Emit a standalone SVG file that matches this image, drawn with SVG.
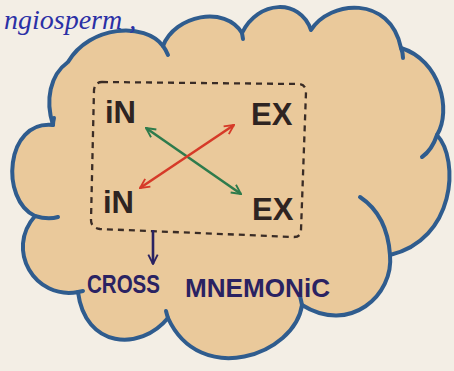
<svg xmlns="http://www.w3.org/2000/svg" width="454" height="371" viewBox="0 0 454 371">
<defs>
<style>
.cloud{fill:#EAC99B;stroke:none}
.edge{fill:none;stroke:#2F5C8E;stroke-width:4;stroke-linecap:round;stroke-linejoin:round}
.lbl{font-family:"Liberation Sans",Arial,sans-serif;font-size:31px;font-weight:bold;fill:#2E2422}
.cap{font-family:"Liberation Sans",Arial,sans-serif;font-size:25px;font-weight:bold;fill:#2A2262}
.hand{font-family:"Liberation Serif",serif;font-style:italic;font-size:28px;fill:#2B30A6}
.box{fill:none;stroke:#3A2C26;stroke-width:2.3;stroke-dasharray:6 5}
.g{fill:none;stroke:#2E7B4C;stroke-width:2.6}
.r{fill:none;stroke:#D63A28;stroke-width:2.6}
.d{fill:none;stroke:#2A2262;stroke-width:2.6}
</style>
<marker id="hg" viewBox="0 0 10 10" refX="9" refY="5" markerWidth="4.5" markerHeight="4.5" orient="auto-start-reverse" markerUnits="strokeWidth"><path d="M1,1 L9,5 L1,9" fill="none" stroke="#2E7B4C" stroke-width="1.6"/></marker>
<marker id="hr" viewBox="0 0 10 10" refX="9" refY="5" markerWidth="4.5" markerHeight="4.5" orient="auto-start-reverse" markerUnits="strokeWidth"><path d="M1,1 L9,5 L1,9" fill="none" stroke="#D63A28" stroke-width="1.6"/></marker>
<marker id="hd" viewBox="0 0 10 10" refX="9" refY="5" markerWidth="4.5" markerHeight="4.5" orient="auto" markerUnits="strokeWidth"><path d="M1,1 L9,5 L1,9" fill="none" stroke="#2A2262" stroke-width="1.6"/></marker>
</defs>
<rect width="454" height="371" fill="#F3EEE5"/>
<g id="cloud">
<path class="cloud" d="M68,62 C90,25 145,22 163,46 C175,15 225,5 242,33 C258,0 300,-2 311,30 C330,0 390,-5 401,48 C440,60 452,110 437,135 C460,160 455,240 390,255 C394,295 350,335 302,305 C295,355 200,388 168,318 C140,352 85,348 78,292 C35,300 5,250 35,216 C0,200 5,120 53,125 C45,100 50,75 68,62 Z"/>
<path class="edge" d="M68,62 C90,25 145,22 163,46 C175,15 225,5 242,33 C258,0 300,-2 311,30 C330,0 390,-5 401,48 C440,60 452,110 437,135 C460,160 455,240 390,255 C394,295 350,335 302,305 C295,355 200,388 168,318 C140,352 85,348 78,292 C35,300 5,250 35,216 C0,200 5,120 53,125 C45,100 50,75 68,62"/>
<path class="edge" d="M163,46 Q166,50 168,55 M242,33 L243,39 M401,48 Q403,53 403,58 M437,135 Q432,150 422,157 M360,197 C375,207 388,225 390,255 M302,305 Q301,300 300,296 M168,318 Q167,315 166,311 M78,292 L83,291 M35,216 Q48,220 58,217 M53,125 Q53,122 54,118"/>
</g>
<g id="heading"><text class="hand" x="4" y="29">ngiosperm ,</text></g>
<g id="frame"><path class="box" d="M102,82 L299,84 Q306,85 306,92 L301,230 Q301,237 294,237 L100,229 Q91,228 91,220 L94,90 Q95,82 102,82 Z"/></g>
<g id="in-top"><text class="lbl" x="105" y="123">iN</text></g>
<g id="ex-top"><text class="lbl" x="251" y="125">EX</text></g>
<g id="in-bottom"><text class="lbl" x="103" y="213">iN</text></g>
<g id="ex-bottom"><text class="lbl" x="252" y="220">EX</text></g>
<g id="caption"><text class="cap"><tspan x="87" y="293" textLength="73" lengthAdjust="spacingAndGlyphs">CROSS</tspan><tspan x="185" y="297" textLength="145" lengthAdjust="spacingAndGlyphs">MNEMONiC</tspan></text></g>
<g id="connectors">
<line class="g" x1="146" y1="128" x2="241" y2="194" marker-start="url(#hg)" marker-end="url(#hg)"/>
<line class="r" x1="140" y1="188" x2="234" y2="125" marker-start="url(#hr)" marker-end="url(#hr)"/>
<line class="d" x1="153" y1="230" x2="153" y2="264" marker-end="url(#hd)"/>
</g>
</svg>
